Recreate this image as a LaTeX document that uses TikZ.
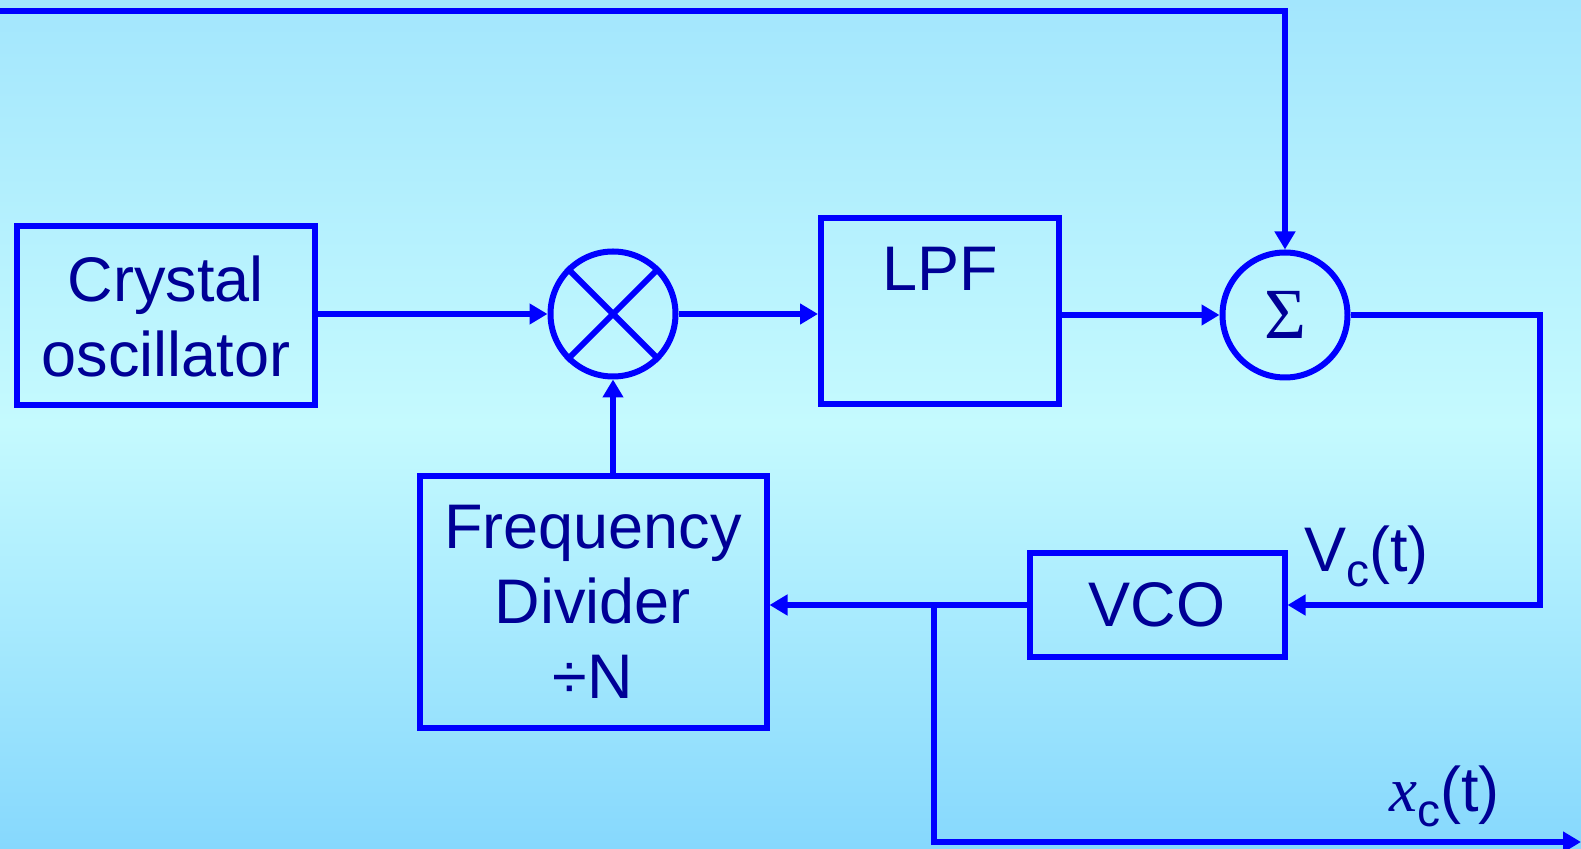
\documentclass[tikz,border=0pt]{standalone}
\usepackage{fontspec}
\setmainfont{Liberation Sans}
\newfontfamily\timesfont{Liberation Serif}
\usetikzlibrary{arrows.meta}

\definecolor{bgtop}{RGB}{163,230,253}
\definecolor{bgmid}{RGB}{197,250,254}
\definecolor{bgbot}{RGB}{134,216,253}
\definecolor{linkblue}{RGB}{0,0,255}
\definecolor{ink}{RGB}{0,0,150}

\begin{document}
\begin{tikzpicture}[x=0.5pt,y=-0.5pt,
  wire/.style={draw=linkblue,line width=3pt},
  block/.style={wire,rectangle,inner sep=0pt,text=ink,align=center,font=\fontsize{31.5}{37.5}\selectfont},
  junction/.style={wire,circle,minimum size=62.5pt,inner sep=0pt,text=ink},
  flow/.style={wire,-{Triangle[length=9pt,width=10pt]}},
  tag/.style={text=ink,inner sep=0pt,font=\fontsize{31.5}{37.5}\selectfont}]
\useasboundingbox (0,0) rectangle (1581,849);
\shade[top color=bgtop,bottom color=bgbot,middle color=bgmid] (0,0) rectangle (1581,849);

% blocks
\node[block,minimum width=149pt,minimum height=89.5pt] (crystal) at (166,316) {Crystal\\oscillator};
\node[junction] (mixer) at (613,314) {};
\draw[wire] (mixer.45) -- (mixer.225) (mixer.135) -- (mixer.315);
\node[block,minimum width=119pt,minimum height=93pt] (lpf) at (940,311) {};
\node[tag,anchor=north] (lpftext) at ([yshift=-16pt]lpf.north) {LPF};
\node[junction,font=\timesfont\fontsize{36}{36}\selectfont] (sigma) at (1285,315) {Σ};
\node[block,minimum width=127.5pt,minimum height=52pt] (vco) at (1157,605) {VCO};
\node[block,minimum width=173.5pt,minimum height=126pt] (divider) at (593,602) {Frequency\\Divider\\÷N};

% signal labels
\node[tag,anchor=base west] (vclabel) at (1304,572) {V\raisebox{-7.5pt}{\fontsize{23}{23}\selectfont c}(t)};
\node[tag,anchor=base west] (xclabel) at (1389,812) {{\timesfont\itshape x}\raisebox{-7.5pt}{\fontsize{23}{23}\selectfont c}(t)};

% connections
\coordinate (fbin) at (0,11);
\coordinate (loop) at (1540,605);
\coordinate (tap) at (934,605);
\coordinate (out) at (1581,842);
\draw[flow] (fbin) -| (sigma.north);
\draw[flow] (crystal.east |- mixer.west) -- (mixer.west);
\draw[flow] (mixer.east) -- (mixer.east -| lpf.west);
\draw[flow] (lpf.east |- sigma.west) -- (sigma.west);
\draw[flow] (sigma.east) -| (loop) -- (vco.east);
\draw[flow] (vco.west) -- (vco.west -| divider.east);
\draw[flow] (divider.north -| mixer.south) -- (mixer.south);
\draw[flow] (tap) |- (out);
\end{tikzpicture}
\end{document}
